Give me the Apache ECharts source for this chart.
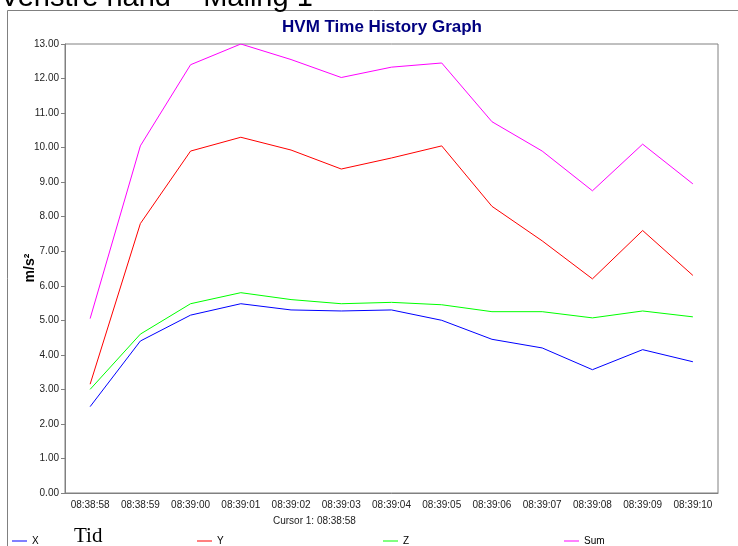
<!DOCTYPE html>
<html>
<head>
<meta charset="utf-8">
<script src="https://cdn.jsdelivr.net/npm/echarts@6/dist/echarts.min.js"></script>
<style>
  html, body { margin: 0; padding: 0; background: #fff; }
  #main { width: 738px; height: 546px; }
</style>
</head>
<body>
<div id="main"></div>
<script>
// time stamps on the x axis
var times = ['08:38:58', '08:38:59', '08:39:00', '08:39:01', '08:39:02', '08:39:03', '08:39:04',
    '08:39:05', '08:39:06', '08:39:07', '08:39:08', '08:39:09', '08:39:10'];
// m/s2 per axis
var xVals = [2.50, 4.40, 5.15, 5.48, 5.30, 5.27, 5.30, 5.00, 4.45, 4.20, 3.57, 4.15, 3.80];
var yVals = [3.15, 7.80, 9.90, 10.30, 9.93, 9.38, 9.70, 10.05, 8.30, 7.30, 6.20, 7.60, 6.30];
var zVals = [3.00, 4.60, 5.48, 5.80, 5.60, 5.48, 5.52, 5.45, 5.25, 5.25, 5.07, 5.27, 5.10];
var sumVals = [5.05, 10.05, 12.40, 13.00, 12.55, 12.03, 12.33, 12.45, 10.75, 9.90, 8.75, 10.10, 8.95];

var seriesNames = ['X', 'Y', 'Z', 'Sum'];
var seriesColors = ['#0000ff', '#ff0000', '#00ff00', '#ff00ff'];
var seriesData = [xVals, yVals, zVals, sumVals];
var legendLeft = [9, 194, 380, 561];

var font = '"Liberation Sans", Arial, sans-serif';

var legends = seriesNames.map(function (n, i) {
    return {
        data: [n],
        left: legendLeft[i],
        top: 533,
        padding: 3,
        icon: 'rect',
        itemWidth: 15,
        itemHeight: 1,
        itemGap: 4,
        textStyle: { fontFamily: font, fontSize: 10, color: '#000' },
        selectedMode: false
    };
});

var option = {
    backgroundColor: '#fff',
    animation: false,
    title: {
        text: 'HVM Time History Graph',
        left: 377,
        textAlign: 'center',
        top: 14,
        textStyle: { fontFamily: font, fontSize: 17, fontWeight: 'bold', color: '#000080' }
    },
    legend: legends,
    grid: {
        left: 65, right: 20, top: 44, bottom: 53,
        show: true, borderColor: '#808080', borderWidth: 1
    },
    xAxis: {
        type: 'category',
        data: times,
        boundaryGap: true,
        axisLine: { lineStyle: { color: '#808080' } },
        axisTick: { alignWithLabel: true, length: 4, lineStyle: { color: '#808080' } },
        axisLabel: { fontFamily: font, fontSize: 10, color: '#222', margin: 7, interval: 0 },
        splitLine: { show: false }
    },
    yAxis: {
        type: 'value',
        min: 0, max: 13, interval: 1,
        axisLine: { show: true, lineStyle: { color: '#808080' } },
        axisTick: { show: true, length: 4, lineStyle: { color: '#808080' } },
        axisLabel: {
            fontFamily: font, fontSize: 10, color: '#222', margin: 6,
            formatter: function (v) { return v.toFixed(2); }
        },
        splitLine: { show: false }
    },
    series: seriesNames.map(function (n, i) {
        return {
            name: n,
            type: 'line',
            data: seriesData[i],
            showSymbol: false,
            symbol: 'none',
            lineStyle: { width: 1, color: seriesColors[i] },
            itemStyle: { color: seriesColors[i] }
        };
    }),
    graphic: [
        { type: 'rect', shape: { x: 7.5, y: 10.5, width: 740, height: 600 },
          style: { fill: 'none', stroke: '#808080', lineWidth: 1 }, z: -1 },
        { type: 'text', left: 0, top: -17,
          style: { text: 'Venstre hånd – Måling 1', font: '29px ' + font, fill: '#000' } },
        { type: 'text', x: 30, y: 268, rotation: Math.PI / 2,
          style: { text: 'm/s²', font: 'bold 14px ' + font, fill: '#000',
                   align: 'center', verticalAlign: 'middle' } },
        { type: 'text', left: 273, top: 516,
          style: { text: 'Cursor 1: 08:38:58', font: '10px ' + font, fill: '#222' } },
        { type: 'text', left: 74, top: 526,
          style: { text: 'Tid', font: '21px "Liberation Serif", "DejaVu Serif", serif', fill: '#000' } }
    ]
};

var myChart = echarts.init(document.getElementById('main'));
myChart.setOption(option);
</script>
</body>
</html>
